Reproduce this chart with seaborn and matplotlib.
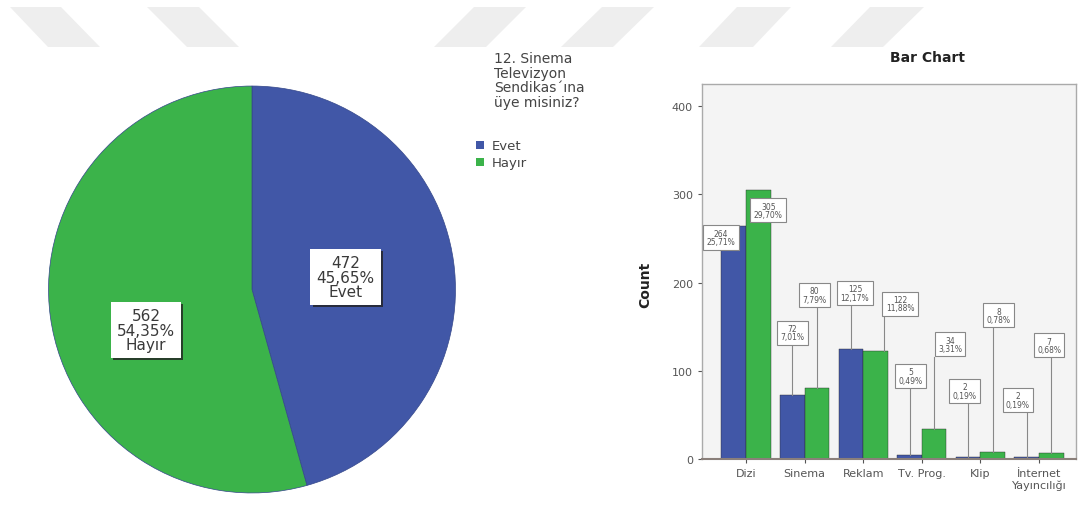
import seaborn as sns
import numpy as np
import matplotlib.pyplot as plt
import pandas as pd
from matplotlib.patches import Polygon
from matplotlib import patheffects as pe

# Pie data: "12. Sinema Televizyon Sendikas'ına üye misiniz?"
pie_groups = ["Evet", "Hayır"]
pie_counts = [472, 562]
pie_pcts = ["45,65%", "54,35%"]

# Bar chart data
categories = ["Dizi", "Sinema", "Reklam", "Tv. Prog.", "Klip", "İnternet\nYayıncılığı"]
evet_counts = [264, 72, 125, 5, 2, 2]
hayir_counts = [305, 80, 122, 34, 8, 7]
evet_pcts = ["25,71%", "7,01%", "12,17%", "0,49%", "0,19%", "0,19%"]
hayir_pcts = ["29,70%", "7,79%", "11,88%", "3,31%", "0,78%", "0,68%"]

blue = "#4157a7"
green = "#3bb34a"

W, H = 1081, 506
fig = plt.figure(figsize=(W / 100, H / 100), dpi=100)
plt.rcParams['font.family'] = ['DejaVu Sans']

# faint diagonal stripes across the top of the page
stripes = [
    [(10, 8), (61, 8), (100, 48), (48, 48)],
    [(147, 8), (199, 8), (239, 48), (187, 48)],
    [(474, 8), (526, 8), (486, 48), (434, 48)],
    [(602, 8), (654, 8), (613, 48), (561, 48)],
    [(737, 8), (791, 8), (753, 48), (699, 48)],
    [(870, 8), (924, 8), (883, 48), (831, 48)],
]
for s in stripes:
    pts = [(x / W, 1 - y / H) for x, y in s]
    fig.patches.append(Polygon(pts, closed=True, transform=fig.transFigure,
                               facecolor="#eeeeee", edgecolor="none", zorder=0))

# ---- pie ----
ax1 = fig.add_axes([45 / W, 10 / H, 414 / W, 411 / H])
ax1.pie(pie_counts, colors=[blue, green], startangle=90, counterclock=False,
        wedgeprops=dict(linewidth=0.5, edgecolor="#34478a"))
ax1.set_xlim(-1.01, 1.01)
ax1.set_ylim(-1.01, 1.01)

pie_label_pos = [(0.46, 0.06), (-0.52, -0.2)]
for i in range(len(pie_groups)):
    t = ax1.text(pie_label_pos[i][0], pie_label_pos[i][1],
                 f"{pie_counts[i]}\n{pie_pcts[i]}\n{pie_groups[i]}",
                 ha="center", va="center", fontsize=11, color="#3a3a3a",
                 linespacing=0.95,
                 bbox=dict(boxstyle="square,pad=0.4", facecolor="white", edgecolor="none"))
    t.get_bbox_patch().set_path_effects([
        pe.SimplePatchShadow(offset=(1.5, -1.5), shadow_rgbFace="#222222", alpha=0.8),
        pe.Normal()])

# legend
fig.text(494 / W, 1 - 52 / H, "12. Sinema\nTelevizyon\nSendikas´ına\nüye misiniz?",
         ha="left", va="top", fontsize=10, color="#444444", linespacing=1.05)
for i, (g, c) in enumerate(zip(pie_groups, [blue, green])):
    y = 146 + 17 * i
    fig.patches.append(plt.Rectangle((476 / W, 1 - (y + 4) / H), 8 / W, 8 / H,
                                     transform=fig.transFigure, facecolor=c, edgecolor="none"))
    fig.text(492 / W, 1 - y / H, g, ha="left", va="center", fontsize=9.5, color="#444444")

# ---- bar chart ----
df = pd.DataFrame({
    "cat": categories * 2,
    "count": evet_counts + hayir_counts,
    "group": ["Evet"] * len(categories) + ["Hayır"] * len(categories),
})

ax2 = fig.add_axes([702 / W, 46 / H, 374 / W, 375 / H])
sns.barplot(data=df, x="cat", y="count", hue="group", palette=[blue, green],
            saturation=1, width=0.84, legend=False, ax=ax2,
            edgecolor="#2a2a2a", linewidth=0.3)
ax2.set_facecolor("#f4f4f4")
ax2.set_xlim(-0.75, 5.63)
ax2.set_ylim(0, 425)
ax2.set_yticks([0, 100, 200, 300, 400])
ax2.set_xlabel("")
ax2.set_ylabel("")
ax2.tick_params(axis="both", labelsize=8, colors="#555555", length=3, width=0.8)
for sp in ax2.spines.values():
    sp.set_color("#aaaaaa")
    sp.set_linewidth(1)
ax2.spines["bottom"].set_color("#8a7f7a")
ax2.spines["bottom"].set_linewidth(1.5)

fig.text(928 / W, 1 - 58 / H, "Bar Chart", ha="center", va="center",
         fontsize=10, fontweight="bold", color="#222222")
fig.text(645 / W, 1 - 285 / H, "Count", ha="center", va="center", rotation=90,
         fontsize=10, fontweight="bold", color="#222222")

# value boxes: (offset from bar centre, box centre height)
evet_box = [(-0.22, 251), (0.0, 143), (0.07, 188), (0.02, 94), (-0.06, 77), (-0.15, 67)]
hayir_box = [(0.17, 282), (-0.04, 186), (0.42, 176), (0.27, 130), (0.10, 163), (-0.04, 129)]
half_w, half_h = 0.31, 14

for counts, pcts, boxes, off in [(evet_counts, evet_pcts, evet_box, -0.21),
                                 (hayir_counts, hayir_pcts, hayir_box, 0.21)]:
    for i in range(len(categories)):
        bx = i + off
        tx, ty = bx + boxes[i][0], boxes[i][1]
        if ty - half_h > counts[i]:
            lx = min(max(bx, tx - half_w + 0.04), tx + half_w - 0.04)
            ax2.plot([lx, lx], [counts[i], ty - half_h], color="#888888", lw=0.8, zorder=3)
        ax2.text(tx, ty, f"{counts[i]}\n{pcts[i]}", ha="center", va="center",
                 fontsize=5.5, color="#555555", linespacing=0.9, zorder=4,
                 bbox=dict(boxstyle="square,pad=0.45", facecolor="white",
                           edgecolor="#888888", linewidth=0.8))

plt.savefig("out.png", dpi=100)
plt.close()
